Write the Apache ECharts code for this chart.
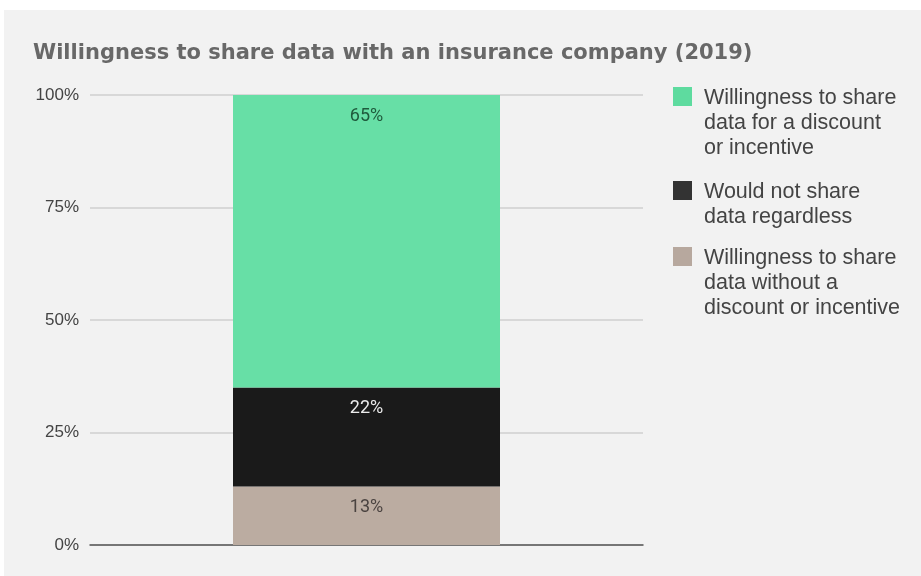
<!DOCTYPE html>
<html>
<head>
<meta charset="utf-8">
<script src="https://cdn.jsdelivr.net/npm/echarts@6/dist/echarts.min.js"></script>
<style>
  html, body { margin: 0; padding: 0; background: #ffffff; }
  #chart { position: absolute; left: 4px; top: 10px; width: 917px; height: 566px; }
</style>
</head>
<body>
<div id="chart"></div>
<script>
// Survey year shown as the only category
const categories = ['2019'];

// Share of respondents (percent), stacked bottom to top
const withoutIncentive = [13];
const wouldNotShare = [22];
const forIncentive = [65];

const seriesNames = [
  'Willingness to share data for a discount or incentive',
  'Would not share data regardless',
  'Willingness to share data without a discount or incentive'
];
// Legend text broken over lines
const legendLines = [
  ['Willingness to share', 'data for a discount', 'or incentive'],
  ['Would not share', 'data regardless'],
  ['Willingness to share', 'data without a', 'discount or incentive']
];
const yTicks = [0, 25, 50, 75, 100];

const barColors = ['#67dfa6', '#1a1a1a', '#bbaca1'];
const iconColors = ['#5edb9f', '#333333', '#b7a89e'];
const labelColors = ['#1f5a3c', '#ececec', '#4a4340'];

const LINE_H = 25;
// icon top edges inside the chart container
const iconTops = [77, 171, 237];
const ICON = 19;

const chart = echarts.init(document.getElementById('chart'));

// Legend text is centred on its icon; blank lines above the text lift the
// block so that the first line sits level with the icon.
function legendFor(i) {
  const n = legendLines[i].length;
  const blockH = (2 * n - 1) * LINE_H;
  return {
    orient: 'vertical',
    left: 669,
    top: iconTops[i] - (blockH / 2 - ICON / 2),
    padding: 0,
    itemWidth: ICON,
    itemHeight: ICON,
    icon: 'rect',
    selectedMode: false,
    data: [{ name: seriesNames[i], itemStyle: { color: iconColors[i] } }],
    formatter: function () {
      const blanks = [];
      for (let k = 1; k < n; k++) blanks.push('{g|}');
      const lines = legendLines[i].map(function (l) { return '{g|}{t|' + l + '}'; });
      return blanks.concat(lines).join('\n');
    },
    textStyle: {
      fontFamily: 'Liberation Sans, Arial, sans-serif',
      fontSize: 21.5,
      lineHeight: LINE_H,
      color: '#444444',
      rich: {
        g: { width: 7, height: LINE_H, lineHeight: LINE_H },
        t: {
          fontFamily: 'Liberation Sans, Arial, sans-serif',
          fontSize: 21.5,
          lineHeight: LINE_H,
          color: '#444444',
          padding: [3, 0, 0, 0]
        }
      }
    }
  };
}

function bar(i, data) {
  return {
    name: seriesNames[i],
    type: 'bar',
    stack: 'total',
    data: data,
    barWidth: 267,
    itemStyle: { color: barColors[i] },
    label: {
      show: true,
      position: 'insideTop',
      distance: 12,
      formatter: '{c}%',
      fontFamily: 'Roboto, Liberation Sans, sans-serif',
      fontSize: 18,
      color: labelColors[i]
    },
    emphasis: { disabled: true }
  };
}

chart.setOption({
  backgroundColor: '#f2f2f2',
  animation: false,
  title: {
    text: 'Willingness to share data with an insurance company (2019)',
    left: 24,
    top: 28,
    textStyle: {
      fontFamily: 'DejaVu Sans, sans-serif',
      fontWeight: 'bold',
      fontSize: 21,
      color: '#686868'
    }
  },
  legend: [legendFor(0), legendFor(1), legendFor(2)],
  grid: { left: 86, right: 278, top: 85, bottom: 31, containLabel: false },
  xAxis: {
    type: 'category',
    data: categories,
    axisLine: { lineStyle: { color: '#555555', width: 1.5 } },
    axisTick: { show: false },
    axisLabel: { show: false }
  },
  yAxis: {
    type: 'value',
    min: yTicks[0],
    max: yTicks[yTicks.length - 1],
    interval: yTicks[1] - yTicks[0],
    axisLine: { show: false },
    axisTick: { show: false },
    axisLabel: {
      formatter: '{value}%',
      margin: 11,
      fontFamily: 'Liberation Sans, Arial, sans-serif',
      fontSize: 17,
      color: '#444444'
    },
    splitLine: { lineStyle: { color: '#cfcfcf', width: 1.5 } }
  },
  series: [
    bar(2, withoutIncentive),
    bar(1, wouldNotShare),
    bar(0, forIncentive)
  ]
});
</script>
</body>
</html>
